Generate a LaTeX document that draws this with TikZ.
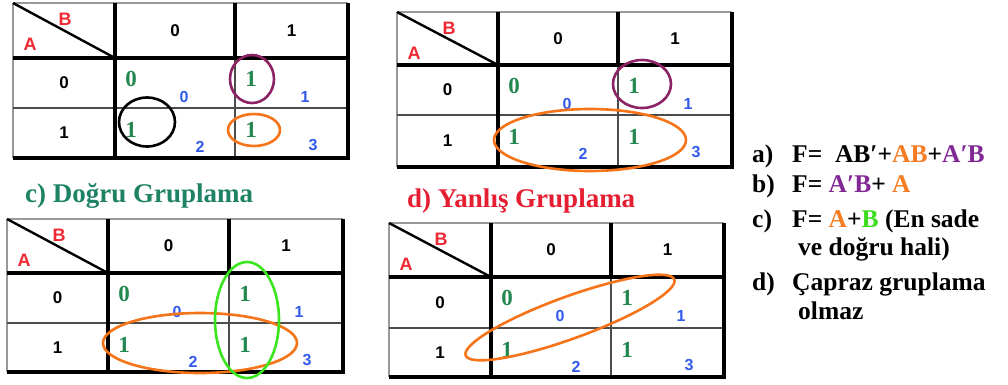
\documentclass[tikz,border=0pt]{standalone}
\usepackage{fontspec}
\setmainfont{Liberation Serif}
\newfontfamily\sansf{Liberation Sans}
\definecolor{cellgreen}{RGB}{35,135,80}
\definecolor{idxblue}{RGB}{50,90,235}
\definecolor{lblred}{RGB}{240,40,50}
\definecolor{grpurple}{RGB}{140,35,100}
\definecolor{grorange}{RGB}{245,115,25}
\definecolor{grgreen}{RGB}{60,230,30}
\definecolor{titlegreen}{RGB}{30,130,100}
\definecolor{titlered}{RGB}{230,30,50}
\definecolor{txtpurple}{RGB}{130,40,150}
\definecolor{txtorange}{RGB}{245,125,35}
\definecolor{txtgreen}{RGB}{60,220,30}
\tikzset{
  hdr/.style={font=\sansf\bfseries\fontsize{17}{18}\selectfont, inner sep=0pt},
  val/.style={font=\bfseries\fontsize{23}{24}\selectfont, text=cellgreen, inner sep=0pt},
  idx/.style={font=\sansf\bfseries\fontsize{16}{18}\selectfont, text=idxblue, inner sep=0pt},
  axl/.style={font=\sansf\bfseries\fontsize{18}{19}\selectfont, text=lblred, inner sep=0pt},
  thinline/.style={line width=1.2pt, draw=black!40},
  midline/.style={line width=1.8pt, draw=black!70},
  thickline/.style={line width=3.2pt, draw=black},
  diagline/.style={line width=2.4pt, draw=black},
  ring/.style={line width=2.6pt},
  titlefont/.style={font=\bfseries\fontsize{27}{30}\selectfont, inner sep=0pt, anchor=base west},
  eqtext/.style={font=\bfseries\fontsize{25.5}{28}\selectfont, inner sep=0pt, anchor=base west},
}
% #1 prefix, #2..#5 = x0..x3, #6..#9 = y0..y3
\newcommand\KMap[9]{%
  \draw[thinline] (#2,#6) -- (#5,#6);
  \draw[thinline] (#2,#6) -- (#2,#9);
  \draw[midline] (#2,#8) -- (#5,#8);
  \draw[midline] (#4,#7) -- (#4,#9);
  \draw[thickline] (#2,#7) -- (#5,#7);
  \draw[thickline] (#3,#6) -- (#3,#9);
  \draw[thickline] (#4,#6) -- (#4,#7);
  \draw[thickline] (#5,#6) -- (#5,#9) -- (#2,#9);
  \draw[diagline] (#2,#6) -- (#3,#7);
  \node[axl] (#1-B) at ({#2+52},{#6+16}) {B};
  \node[axl] (#1-A) at ({#2+17},{#6+41}) {A};
  \node[hdr] (#1-h0) at ({(#3+#4)/2},{(#6+#7)/2}) {0};
  \node[hdr] (#1-h1) at ({(#4+#5)/2},{(#6+#7)/2}) {1};
  \node[hdr] (#1-r0) at ({(#2+#3)/2},{(#7+#8)/2}) {0};
  \node[hdr] (#1-r1) at ({(#2+#3)/2},{(#8+#9)/2}) {1};
  \node[val] (#1-v0) at ({#3+16},{#7+21}) {0};
  \node[val] (#1-v1) at ({#4+16},{#7+21}) {1};
  \node[val] (#1-v2) at ({#3+16},{#8+22}) {1};
  \node[val] (#1-v3) at ({#4+16},{#8+22}) {1};
  \node[idx] (#1-i0) at ({#3+69},{#7+39}) {0};
  \node[idx] (#1-i1) at ({#4+70},{#7+39}) {1};
  \node[idx] (#1-i2) at ({#3+85},{#8+39}) {2};
  \node[idx] (#1-i3) at ({#4+78},{#8+37}) {3};
}
\begin{document}
\begin{tikzpicture}[x=1pt,y=-1pt]
\useasboundingbox[fill=white] (0,0) rectangle (1008,384);
% table a
\KMap{ta}{13}{115}{235}{348}{3}{58}{108}{158}
\draw[ring, grpurple] (252,79) ellipse (22 and 24);
\draw[ring, black] (147,122) ellipse (28 and 24.5);
\draw[ring, grorange] (254,130) ellipse (26 and 16);
% table b
\KMap{tb}{397}{498}{618}{732}{12}{65}{115}{167}
\draw[ring, grpurple] (642,84) ellipse (29 and 24);
\draw[ring, grorange] (590,140) ellipse (96 and 31);
% table c
\node[titlefont, text=titlegreen] (tc-title) at (25,202) {c) Doğru Gruplama};
\KMap{tc}{7}{108}{229}{343}{219}{273}{323}{372}
\draw[ring, grorange] (200,343) ellipse (97 and 30);
\draw[ring, grgreen] (247,320) ellipse (32 and 58);
% table d
\node[titlefont, text=titlered] (td-title) at (407,207) {d) Yanlış Gruplama};
\KMap{td}{389}{491}{611}{724}{223}{277}{328}{377}
\draw[ring, grorange, rotate around={20:(570,317.5)}] (570,317.5) ellipse (111 and 21);
% equations
\node[eqtext] (ea-l) at (752,162) {a)};
\node[eqtext] (ea-t) at (792,162) {F=\ \ AB′+{\color{txtorange}AB}+{\color{txtpurple}A′B}};
\node[eqtext] (eb-l) at (752,192) {b)};
\node[eqtext] (eb-t) at (792,192) {F= {\color{txtpurple}A′B}+ {\color{txtorange}A}};
\node[eqtext] (ec-l) at (752,227) {c)};
\node[eqtext] (ec-t) at (792,227) {F= {\color{txtorange}A}+{\color{txtgreen}B} (En sade};
\node[eqtext] (ec-t2) at (798,255) {ve doğru hali)};
\node[eqtext] (ed-l) at (752,290) {d)};
\node[eqtext] (ed-t) at (792,290) {Çapraz gruplama};
\node[eqtext] (ed-t2) at (798,319) {olmaz};
\end{tikzpicture}
\end{document}
